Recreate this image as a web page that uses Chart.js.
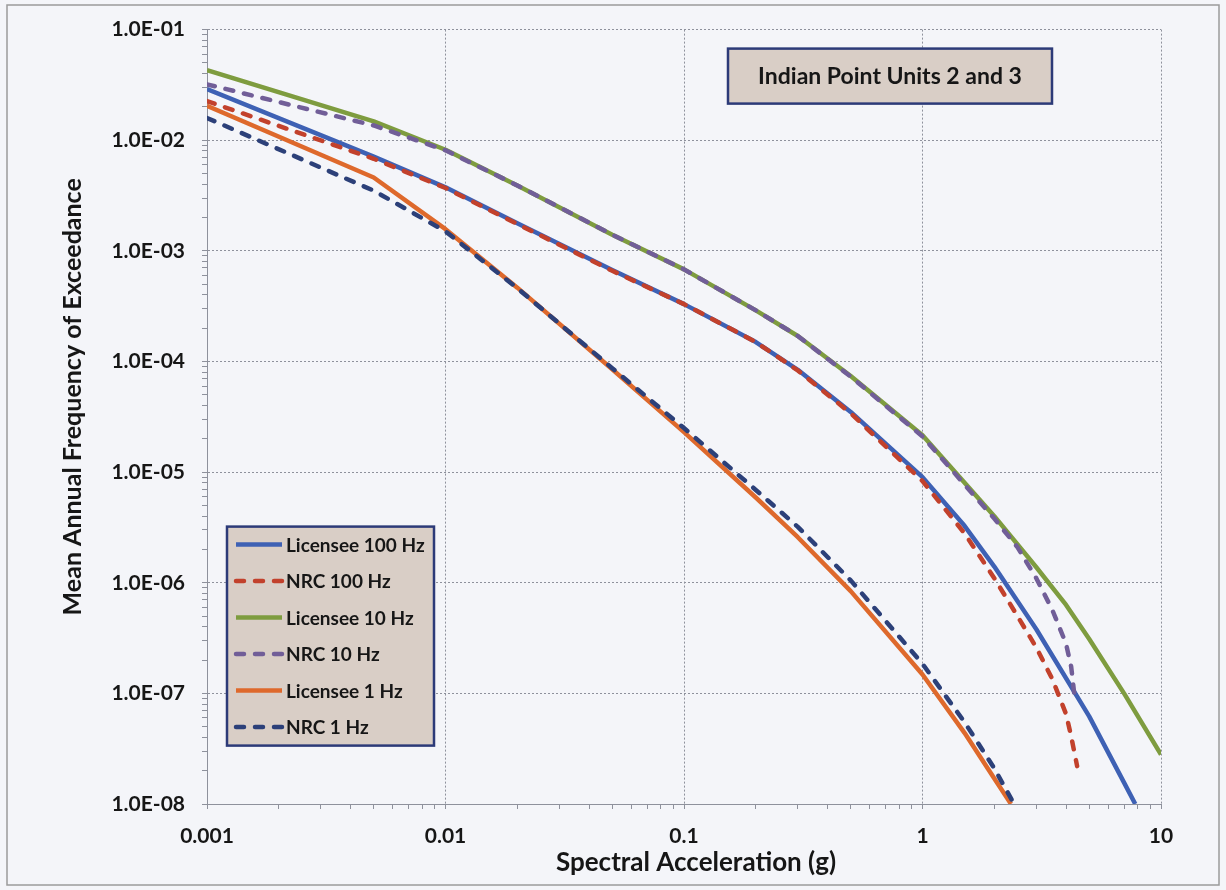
<!DOCTYPE html>
<html>
<head>
<meta charset="utf-8">
<title>Indian Point Units 2 and 3 - hazard curves</title>
<script src="https://cdn.jsdelivr.net/npm/chart.js@4.4.1/dist/chart.umd.min.js"></script>
<style>
  html, body { margin: 0; padding: 0; background: #f4f5f9; }
  canvas { display: block; }
</style>
</head>
<body>
<canvas id="hazardChart" width="1226" height="890"></canvas>
<script>
// spectral acceleration (g) / mean annual frequency of exceedance
const lic100Sa   = [0.001, 0.005, 0.01, 0.02, 0.05, 0.1, 0.2, 0.3, 0.5, 1, 1.5, 2, 3, 5, 7, 7.8];
const lic100Freq = [0.029, 0.0071, 0.00375, 0.00178, 6.7e-4, 3.3e-4, 1.5e-4, 8.4e-5, 3.5e-5, 9.0e-6, 3.27e-6, 1.4e-6, 3.8e-7, 6.2e-8, 1.56e-8, 1.0e-8];

const nrc100Sa   = [0.001, 0.005, 0.01, 0.02, 0.05, 0.1, 0.2, 0.3, 0.5, 1, 1.5, 2, 2.5, 3, 3.5, 4, 4.2, 4.45];
const nrc100Freq = [0.0226, 0.0068, 0.0037, 0.00175, 6.6e-4, 3.3e-4, 1.5e-4, 8.3e-5, 3.4e-5, 8.3e-6, 2.8e-6, 1.1e-6, 5.0e-7, 2.6e-7, 1.35e-7, 6.5e-8, 4.1e-8, 2.2e-8];

const lic10Sa    = [0.001, 0.005, 0.01, 0.02, 0.05, 0.1, 0.2, 0.3, 0.5, 1, 2, 3, 4, 5, 7, 10];
const lic10Freq  = [0.043, 0.0148, 0.0082, 0.0039, 0.0014, 6.8e-4, 2.9e-4, 1.7e-4, 7.4e-5, 2.15e-5, 4.0e-6, 1.38e-6, 6.3e-7, 3.1e-7, 1.0e-7, 2.8e-8];

const nrc10Sa    = [0.001, 0.005, 0.01, 0.02, 0.05, 0.1, 0.2, 0.3, 0.5, 1, 2, 2.5, 3, 3.5, 4, 4.2, 4.35];
const nrc10Freq  = [0.032, 0.0136, 0.0081, 0.0039, 0.0014, 6.8e-4, 2.9e-4, 1.7e-4, 7.3e-5, 2.1e-5, 3.8e-6, 2.1e-6, 1.1e-6, 5.7e-7, 2.8e-7, 1.75e-7, 9.0e-8];

const lic1Sa     = [0.001, 0.005, 0.01, 0.02, 0.05, 0.1, 0.2, 0.3, 0.5, 1, 1.5, 2, 2.35];
const lic1Freq   = [0.0205, 0.0046, 0.00157, 4.65e-4, 8.5e-5, 2.3e-5, 5.9e-6, 2.58e-6, 8.4e-7, 1.48e-7, 4.4e-8, 1.7e-8, 1.0e-8];

const nrc1Sa     = [0.001, 0.005, 0.01, 0.02, 0.05, 0.1, 0.2, 0.3, 0.5, 1, 1.5, 2, 2.42];
const nrc1Freq   = [0.0159, 0.0035, 0.0015, 4.6e-4, 8.7e-5, 2.5e-5, 6.9e-6, 3.2e-6, 1.05e-6, 1.85e-7, 5.5e-8, 2.1e-8, 1.0e-8];

const seriesNames = ["Licensee 100 Hz", "NRC 100 Hz", "Licensee 10 Hz", "NRC 10 Hz", "Licensee 1 Hz", "NRC 1 Hz"];

const xTickLabels = ["0.001", "0.01", "0.1", "1", "10"];
const yTickLabels = ["1.0E-08", "1.0E-07", "1.0E-06", "1.0E-05", "1.0E-04", "1.0E-03", "1.0E-02", "1.0E-01"];

const chartTitle = "Indian Point Units 2 and 3";
const xTitle = "Spectral Acceleration (g)";
const yTitle = "Mean Annual Frequency of Exceedance";

const fontFamily = "Lato, 'Open Sans', sans-serif";
const textColor = "#161616";
const gridColor = "#8e919c";
const boxFill = "#d9cec6";
const boxLine = "#2c3a78";

function points(xs, ys) {
    return xs.map((x, i) => ({ x: x, y: ys[i] }));
}

// decades get labels and grid lines, 2..9 in between only get small tick marks
function logTickValues(labels) {
    const majors = labels.map(Number);
    const values = [];
    majors.forEach((m, i) => {
        values.push(m);
        if (i < majors.length - 1) {
            for (let k = 2; k <= 9; k++) values.push(m * k);
        }
    });
    return values;
}

function labelFor(labels, value) {
    const hit = labels.find(t => Math.abs(Math.log10(Number(t)) - Math.log10(value)) < 1e-6);
    return hit || "";
}

const xTickValues = logTickValues(xTickLabels);
const yTickValues = logTickValues(yTickLabels);

function solid(label, color, xs, ys) {
    return {
        label: label,
        data: points(xs, ys),
        borderColor: color,
        backgroundColor: color,
        borderWidth: 4.5,
        pointRadius: 0,
        tension: 0,
        borderJoinStyle: "round",
        order: 1
    };
}

function dashed(label, color, xs, ys) {
    const ds = solid(label, color, xs, ys);
    ds.borderDash = [8, 11];
    ds.borderCapStyle = "round";
    ds.order = 0;
    return ds;
}

const backdrop = {
    id: "backdrop",
    beforeDraw(chart) {
        const c = chart.ctx;
        c.save();
        c.fillStyle = "#f4f5f9";
        c.fillRect(0, 0, chart.width, chart.height);
        c.strokeStyle = "#9b9b9b";
        c.lineWidth = 1.5;
        c.strokeRect(7, 5, chart.width - 14, chart.height - 10);
        c.restore();
    }
};

const axisTitles = {
    id: "axisTitles",
    afterDraw(chart) {
        const c = chart.ctx;
        const a = chart.chartArea;
        c.save();
        c.fillStyle = textColor;
        c.textAlign = "center";
        c.textBaseline = "middle";
        c.font = "bold 26px " + fontFamily;
        c.fillText(xTitle, a.left + (a.right - a.left) / 2 + 12, 863);
        c.font = "bold 25px " + fontFamily;
        c.translate(73, a.top + (a.bottom - a.top) / 2 - 20);
        c.rotate(-Math.PI / 2);
        c.fillText(yTitle, 0, 0);
        c.restore();
    }
};

const titleBox = {
    id: "titleBox",
    afterDatasetsDraw(chart) {
        const c = chart.ctx;
        const a = chart.chartArea;
        const left = a.left + 521, top = a.top + 19, w = 324, h = 55;
        c.save();
        c.fillStyle = boxFill;
        c.fillRect(left, top, w, h);
        c.strokeStyle = boxLine;
        c.lineWidth = 2.5;
        c.strokeRect(left, top, w, h);
        c.fillStyle = textColor;
        c.font = "bold 23px " + fontFamily;
        c.textAlign = "center";
        c.textBaseline = "middle";
        c.fillText(chartTitle, left + w / 2, top + h / 2);
        c.restore();
    }
};

const legendBox = {
    id: "legendBox",
    afterDatasetsDraw(chart) {
        const c = chart.ctx;
        const a = chart.chartArea;
        const left = a.left + 20, top = a.top + 497, w = 207, h = 219;
        c.save();
        c.fillStyle = boxFill;
        c.fillRect(left, top, w, h);
        c.strokeStyle = boxLine;
        c.lineWidth = 2.5;
        c.strokeRect(left, top, w, h);

        c.font = "bold 19px " + fontFamily;
        c.textBaseline = "middle";
        c.textAlign = "left";
        chart.data.datasets.forEach((ds, i) => {
            const y = top + 18 + i * 36.5;
            c.strokeStyle = ds.borderColor;
            c.lineWidth = ds.borderWidth;
            c.lineCap = ds.borderCapStyle || "butt";
            c.setLineDash(ds.borderDash || []);
            c.beginPath();
            c.moveTo(left + 9, y);
            c.lineTo(left + 55, y);
            c.stroke();
            c.setLineDash([]);
            c.fillStyle = textColor;
            c.fillText(ds.label, left + 59, y + 1);
        });
        c.restore();
    }
};

const ctx = document.getElementById("hazardChart");

const chart = new Chart(ctx, {

    type: "line",

    data: {
        datasets: [
            solid(seriesNames[0], "#3e61b4", lic100Sa, lic100Freq),
            dashed(seriesNames[1], "#c2412c", nrc100Sa, nrc100Freq),
            solid(seriesNames[2], "#7e9c3f", lic10Sa, lic10Freq),
            dashed(seriesNames[3], "#715e98", nrc10Sa, nrc10Freq),
            solid(seriesNames[4], "#de692c", lic1Sa, lic1Freq),
            dashed(seriesNames[5], "#2c4079", nrc1Sa, nrc1Freq)
        ]
    },

    options: {
        responsive: false,
        animation: false,
        devicePixelRatio: 1,
        layout: {
            padding: { left: 7, top: 24, right: 65, bottom: 0 }
        },
        plugins: {
            legend: { display: false },
            tooltip: { enabled: false },
            title: { display: false }
        },
        scales: {
            x: {
                type: "logarithmic",
                min: 0.001,
                max: 10,
                afterBuildTicks: s => { s.ticks = xTickValues.map(v => ({ value: v })); },
                afterFit: s => { s.height = 86; },
                ticks: {
                    autoSkip: false,
                    maxRotation: 0,
                    padding: 15,
                    color: textColor,
                    font: { family: fontFamily, size: 21, weight: "bold" },
                    callback: v => labelFor(xTickLabels, v)
                },
                grid: {
                    color: c => (c.tick && labelFor(xTickLabels, c.tick.value)) ? gridColor : "transparent",
                    lineWidth: 1,
                    tickLength: 5,
                    tickColor: gridColor
                },
                border: { display: true, color: gridColor, width: 1, dash: [2, 2] }
            },
            y: {
                type: "logarithmic",
                min: 1e-8,
                max: 0.1,
                afterBuildTicks: s => { s.ticks = yTickValues.map(v => ({ value: v })); },
                afterFit: s => { s.width = 200; },
                ticks: {
                    autoSkip: false,
                    padding: 17,
                    color: textColor,
                    font: { family: fontFamily, size: 21, weight: "bold" },
                    callback: v => labelFor(yTickLabels, v)
                },
                grid: {
                    color: c => (c.tick && labelFor(yTickLabels, c.tick.value)) ? gridColor : "transparent",
                    lineWidth: 1,
                    tickLength: 5,
                    tickColor: gridColor
                },
                border: { display: true, color: gridColor, width: 1, dash: [2, 2] }
            }
        }
    },

    plugins: [backdrop, titleBox, legendBox, axisTitles]
});
</script>
</body>
</html>
